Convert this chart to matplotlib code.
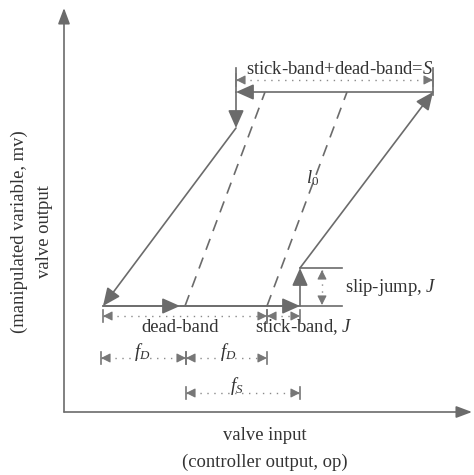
import matplotlib
matplotlib.use("Agg")
import matplotlib.pyplot as plt

# ---- diagram geometry (pixel-space data, y downward) ----
origin = (64, 412)
x_axis_end = 472
y_axis_end = 8

# hysteresis path (travel order)
path_pts = [(103, 306), (180, 306), (300, 306), (300, 268), (433, 92), (236, 92), (236, 128), (103, 306)]
bottom_line_x = [103, 342]
bottom_line_y = 306
jump_line_x = [300, 342]
jump_line_y = 268
top_tick_x = [236, 433]
top_tick_y = [68, 95]

# dashed stiction-free lines
dashed_lines = [((185, 306), (265, 92)), ((267, 306), (347, 92))]

# dimension lines: (x0, x1, y)
dims_h = [
    (236, 433, 80),   # S
    (103, 267, 316),  # dead-band
    (267, 300, 316),  # stick-band
    (101, 186, 358),  # f_D
    (186, 267, 358),  # f_D
    (186, 300, 393),  # f_S
]
dim_v = (322, 270, 305)  # slip-jump

labels = [
    (340, 69, r"stick-band+dead-band=$S$"),
    (180, 327, "dead-band"),
    (304, 327, r"stick-band, $J$"),
    (391, 287, r"slip-jump, $J$"),
    (142, 352, r"$f_D$"),
    (228, 352, r"$f_D$"),
    (237, 386, r"$f_S$"),
    (313, 178, r"$l_0$"),
]
xlabel_lines = ["valve input", "(controller output, op)"]
ylabel_lines = ["valve output", "(manipulated variable, mv)"]

line_col = "#6b6b6b"
text_col = "#333333"

plt.rcParams['font.family'] = ['Liberation Serif', 'DejaVu Serif']
plt.rcParams['mathtext.fontset'] = 'custom'
plt.rcParams['mathtext.it'] = 'Liberation Serif:italic'
plt.rcParams['mathtext.rm'] = 'Liberation Serif'

fig = plt.figure(figsize=(4.74, 4.75), dpi=100)
ax = fig.add_axes([0, 0, 1, 1])
ax.set_xlim(0, 474)
ax.set_ylim(475, 0)
ax.axis('off')

def arrow(p0, p1, lw=1.2, hl=0.9, hw=0.4, ms=12, ls='-', col=line_col):
    ax.annotate("", xy=p1, xytext=p0, xycoords='data',
                arrowprops=dict(arrowstyle=f"-|>,head_length={hl},head_width={hw}",
                                color=col, lw=lw, linestyle=ls,
                                shrinkA=0, shrinkB=0, mutation_scale=ms))

# axes
arrow(origin, (x_axis_end, origin[1]), lw=1.2, hl=0.8, hw=0.3)
arrow(origin, (origin[0], y_axis_end), lw=1.2, hl=0.8, hw=0.3)

# reference lines
ax.plot(bottom_line_x, [bottom_line_y] * 2, color=line_col, lw=1.2)
ax.plot(jump_line_x, [jump_line_y] * 2, color=line_col, lw=1.2)
ax.plot([top_tick_x[0]] * 2, [top_tick_y[0], path_pts[5][1]], color=line_col, lw=1.2)
ax.plot([top_tick_x[1]] * 2, top_tick_y, color=line_col, lw=1.2)

# hysteresis path arrows
for p0, p1 in zip(path_pts[:-1], path_pts[1:]):
    arrow(p0, p1)

# dashed lines
for p0, p1 in dashed_lines:
    ax.plot([p0[0], p1[0]], [p0[1], p1[1]], color=line_col, lw=1.2, dashes=(7, 5))

# dimension lines
def dim_h(x0, x1, y):
    ax.plot([x0, x1], [y, y], color="#8a8a8a", lw=1.0, linestyle=(0, (1, 4)))
    for a, b in ((x0 + 8, x0), (x1 - 8, x1)):
        arrow((a, y), (b, y), lw=0.8, hl=0.7, hw=0.35, ms=8, col="#777777")
    for xx in (x0, x1):
        ax.plot([xx, xx], [y - 6, y + 6], color="#777777", lw=1.2)

for x0, x1, y in dims_h:
    dim_h(x0, x1, y)

xv, y0, y1 = dim_v
ax.plot([xv, xv], [y0, y1], color="#8a8a8a", lw=1.0, linestyle=(0, (1, 4)))
arrow((xv, y0 + 8), (xv, y0), lw=0.8, hl=0.7, hw=0.35, ms=8, col="#777777")
arrow((xv, y1 - 8), (xv, y1), lw=0.8, hl=0.7, hw=0.35, ms=8, col="#777777")

# labels
fs = 13.4
for x, y, t in labels:
    ax.text(x, y, t, ha='center', va='center', fontsize=fs, color=text_col)

ax.text(265, 436, xlabel_lines[0], ha='center', va='center', fontsize=fs, color=text_col)
ax.text(265, 462, xlabel_lines[1], ha='center', va='center', fontsize=fs, color=text_col)
ax.text(45, 232, ylabel_lines[0], ha='center', va='center', fontsize=fs, color=text_col, rotation=90)
ax.text(19, 232, ylabel_lines[1], ha='center', va='center', fontsize=fs, color=text_col, rotation=90)

fig.savefig("out.png", dpi=100)
